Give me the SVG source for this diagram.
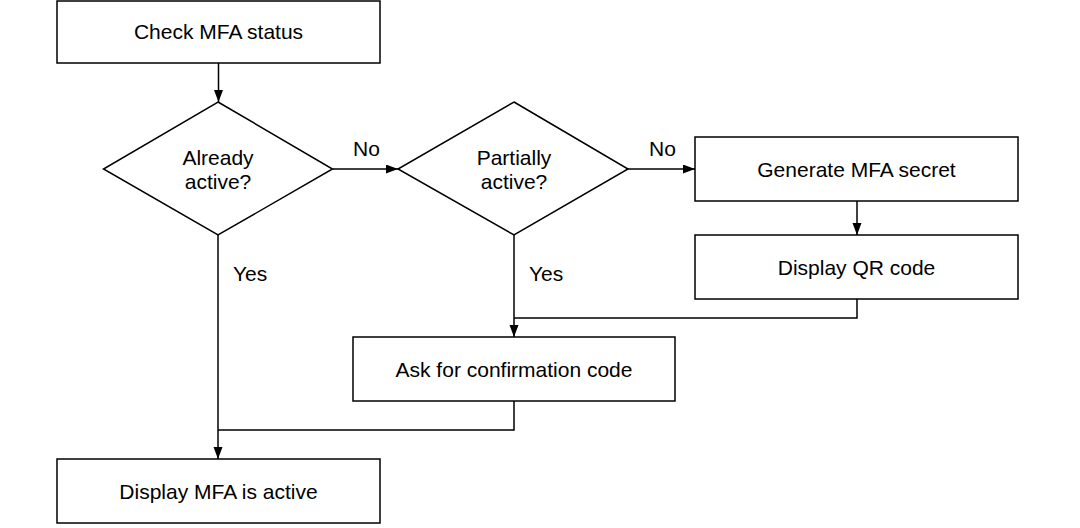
<svg xmlns="http://www.w3.org/2000/svg" width="1080" height="528" viewBox="0 0 1080 528">
<defs>
<style>
.box{fill:#fff;stroke:#000;stroke-width:1.5}
.edge{fill:none;stroke:#000;stroke-width:1.5}
text{font-family:"Liberation Sans",Arial,sans-serif;font-size:21px;fill:#000}
.c{text-anchor:middle}
</style>
<marker id="arr" markerUnits="userSpaceOnUse" markerWidth="12" markerHeight="10" refX="12" refY="4.5" orient="auto">
<path d="M0,0 L12,4.5 L0,9 z" fill="#000"/>
</marker>
</defs>
<rect width="1080" height="528" fill="#fff"/>
<g id="connectors">
<path class="edge" d="M218.5,63 V102" marker-end="url(#arr)"/>
<path class="edge" d="M332.5,169 H398" marker-end="url(#arr)"/>
<text x="353" y="156">No</text>
<path class="edge" d="M628,169 H695" marker-end="url(#arr)"/>
<text x="649" y="156">No</text>
<path class="edge" d="M857,201 V235" marker-end="url(#arr)"/>
<path class="edge" d="M514,235 V337" marker-end="url(#arr)"/>
<text x="529" y="281">Yes</text>
<path class="edge" d="M857,299 V318 H514"/>
<path class="edge" d="M218,235 V459" marker-end="url(#arr)"/>
<text x="233" y="281">Yes</text>
<path class="edge" d="M514,401 V430 H218"/>
</g>
<g id="check">
<rect class="box" x="57" y="1" width="323" height="62"/>
<text class="c" x="218.5" y="39">Check MFA status</text>
</g>
<g id="already">
<polygon class="box" points="218,102 332.5,169 218,235 103.5,169"/>
<text class="c" x="218" y="165">Already</text>
<text class="c" x="218" y="189">active?</text>
</g>
<g id="partially">
<polygon class="box" points="514,102 628,169 514,235 398,169"/>
<text class="c" x="514" y="165">Partially</text>
<text class="c" x="514" y="189">active?</text>
</g>
<g id="generate">
<rect class="box" x="695" y="137" width="323" height="64"/>
<text class="c" x="856.5" y="176.5">Generate MFA secret</text>
</g>
<g id="qr">
<rect class="box" x="695" y="235" width="323" height="64"/>
<text class="c" x="856.5" y="274.5">Display QR code</text>
</g>
<g id="ask">
<rect class="box" x="353" y="337" width="322" height="64"/>
<text class="c" x="514" y="376.5">Ask for confirmation code</text>
</g>
<g id="display">
<rect class="box" x="57" y="459" width="323" height="64"/>
<text class="c" x="218.5" y="498.5">Display MFA is active</text>
</g>
</svg>
